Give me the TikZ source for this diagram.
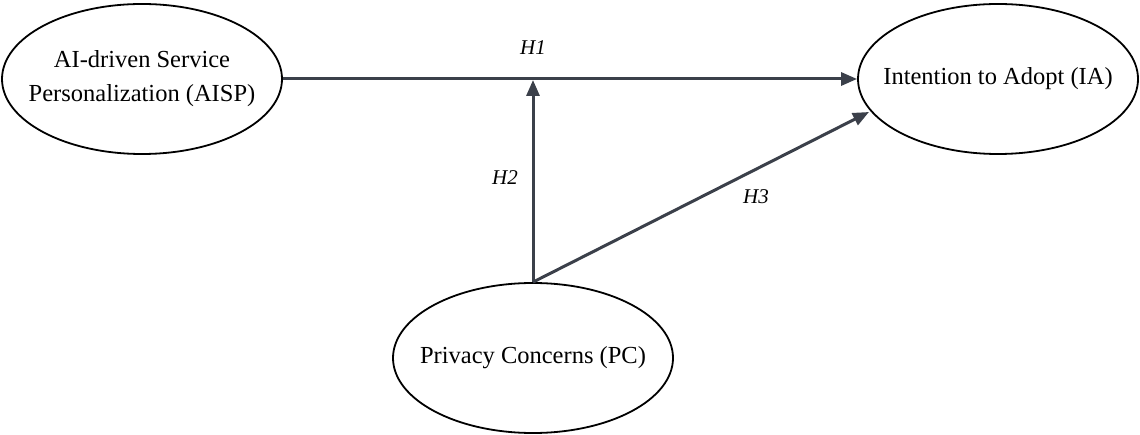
\documentclass[tikz,border=0pt]{standalone}
\usepackage{fontspec}
\setmainfont{Liberation Serif}
\usetikzlibrary{shapes.geometric,arrows.meta}
\begin{document}
\begin{tikzpicture}[x=1pt,y=-1pt,
  construct/.style={ellipse,draw=black,line width=1.8pt,minimum width=280pt,minimum height=150pt,inner xsep=-30pt,inner ysep=0pt,align=center,font=\fontsize{24.5}{34}\selectfont},
  path/.style={draw=arrowcol,line width=3pt,-{Triangle[length=16pt,width=13pt]}},
  hlab/.style={font=\fontsize{21}{25}\selectfont\itshape}]
\definecolor{arrowcol}{HTML}{3B404A}
\useasboundingbox (0,0) rectangle (1140,435);
\node[construct] (AISP) at (142,79) {AI-driven Service\\Personalization (AISP)};
\node[construct] (IA) at (998,79) {Intention to Adopt (IA)};
\node[construct] (PC) at (533,358) {Privacy Concerns (PC)};
\coordinate (M) at (533,80);
\coordinate (H3end) at (869,112);
\draw[path] (AISP.east) -- (IA.west);
\draw[path] (PC.north) -- (M);
\draw[path] (PC.north) -- (H3end);
\node[hlab] (L1) at (533,48) {H1};
\node[hlab] (L2) at (505,178) {H2};
\node[hlab] (L3) at (756,197) {H3};
\end{tikzpicture}
\end{document}
